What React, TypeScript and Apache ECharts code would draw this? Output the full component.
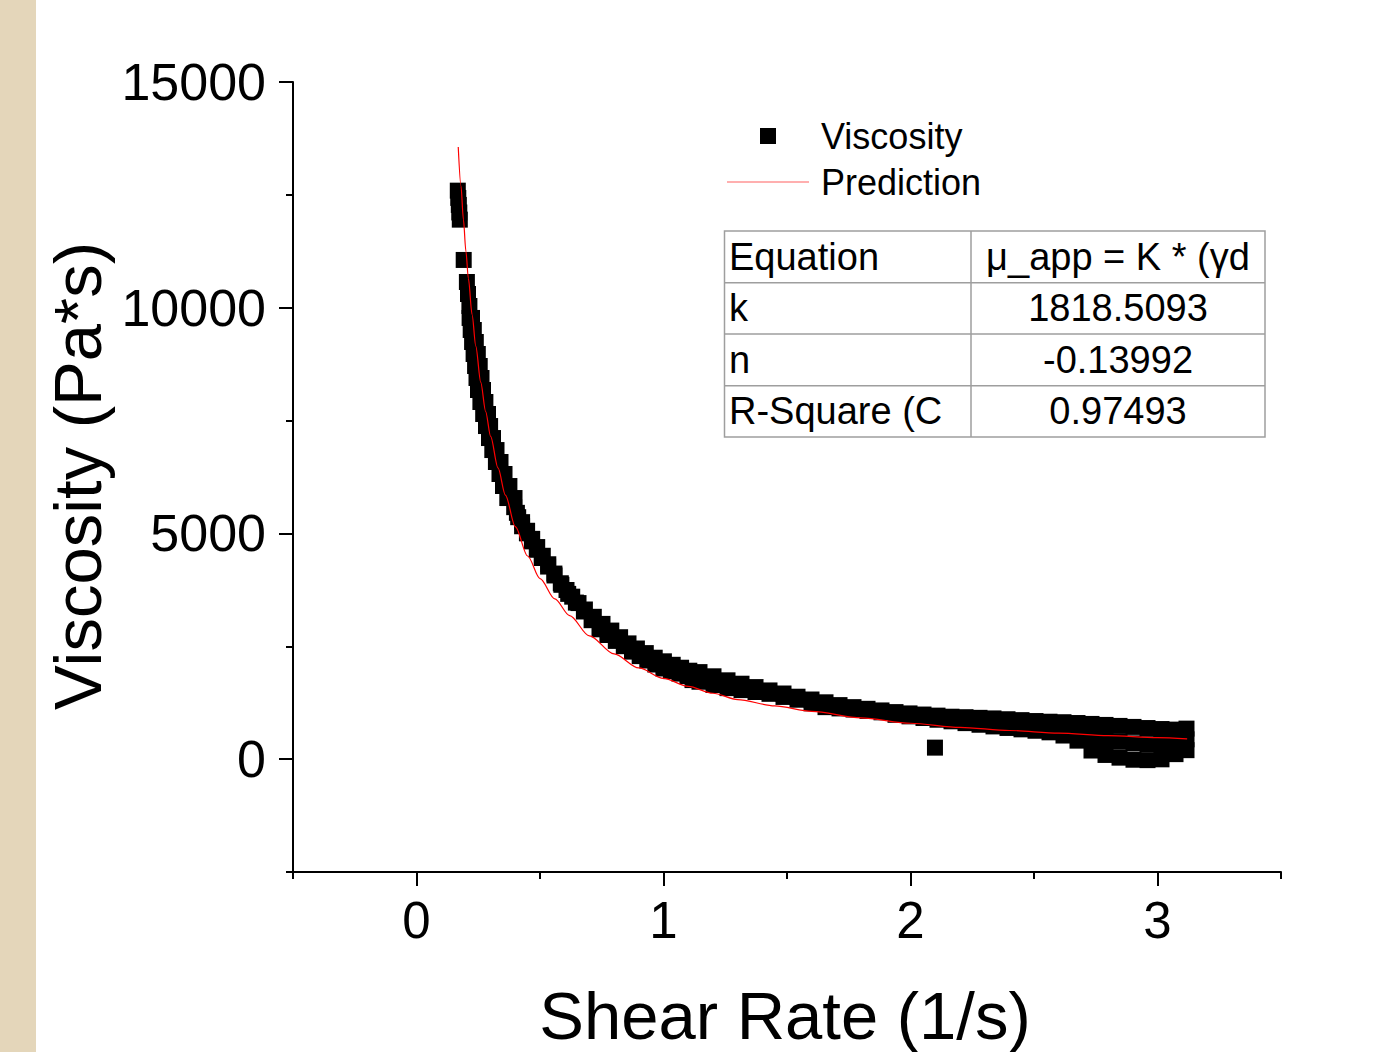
import React, { useEffect, useRef } from "react";
import * as echarts from "echarts";

const FONT = "Liberation Sans, Arial, sans-serif";

// Tick values
const xMajorTicks = [0, 1, 2, 3];
const xMinorTicks = [-0.5, 0.5, 1.5, 2.5, 3.5];
const yMajorTicks = [0, 5000, 10000, 15000];
const yMinorTicks = [-2500, 2500, 7500, 12500];

const topShear = [0.1672, 0.1692, 0.1713, 0.1733, 0.1753, 0.1911, 0.204, 0.2085, 0.2142];
const topVisc = [12593, 12432, 12277, 12110, 11951, 11058, 10570, 10304, 10038];

const steepVisc = [9773, 9507, 9241, 8975, 8709, 8443, 8177, 7911, 7645, 7379, 7113, 6847, 6582, 6316, 6050, 5784];
const steepLeftShear = [0.215, 0.2194, 0.2251, 0.2312, 0.2372, 0.2429, 0.249, 0.2587, 0.27, 0.2814, 0.2935, 0.3069, 0.3215, 0.336, 0.3502, 0.3676];
const steepRightShear = [0.2247, 0.232, 0.2401, 0.2482, 0.2559, 0.2632, 0.2692, 0.2789, 0.2895, 0.298, 0.3097, 0.3239, 0.3401, 0.3563, 0.3761, 0.3968];

const upperShear = [
  0.4065, 0.4275, 0.4478, 0.4684, 0.4887, 0.5113, 0.5336, 0.5583, 0.5842, 0.6073,
  0.6304, 0.6559, 0.6818, 0.7178, 0.753, 0.7887, 0.8243, 0.8583, 0.8923, 0.9283,
  0.9644, 1.0016, 1.0372, 1.0713, 1.1045,
  1.1457, 1.2024, 1.2591, 1.3158, 1.3725, 1.4291, 1.4858, 1.5425, 1.5992, 1.6559,
  1.7126, 1.7692, 1.8259, 1.8826, 1.9393, 1.996, 2.0526, 2.1093, 2.166, 2.2227,
  2.2794, 2.336, 2.3927, 2.4494, 2.5061, 2.5628, 2.6194, 2.6761, 2.7328, 2.7895,
  2.8462, 2.9028, 2.9595, 3.0162, 3.0729, 3.1174,
];
const upperVisc = [
  5456, 5250, 5059, 4880, 4698, 4505, 4317, 4111, 3896, 3747,
  3599, 3457, 3315, 3153, 2996, 2848, 2701, 2564, 2451, 2349,
  2247, 2167, 2090, 2025, 1959,
  1928, 1835, 1746, 1671, 1596, 1522, 1454, 1383, 1321, 1259,
  1197, 1152, 1115, 1079, 1042, 1013, 988, 964, 940, 929,
  915, 902, 884, 864, 844, 829, 818, 800, 780, 758,
  736, 714, 689, 667, 654, 676,
];

const lowerShear = [
  0.3955, 0.4117, 0.4275, 0.447, 0.4672, 0.487, 0.5069, 0.5328, 0.5587, 0.5866,
  0.6142, 0.6453, 0.6777, 0.7089, 0.7409, 0.7729, 0.8069, 0.8393, 0.8725, 0.9036,
  0.9344, 0.9668, 0.9996, 1.03, 1.0644, 1.0968,
  1.1174, 1.1457, 1.2024, 1.2591, 1.3158, 1.3725, 1.4291, 1.4858, 1.5425, 1.5992,
  1.6559, 1.7126, 1.7692, 1.8259, 1.8826, 1.9393, 1.996, 2.0526, 2.1093, 2.166,
  2.2227, 2.2794, 2.336, 2.3927, 2.4494, 2.5061, 2.5628, 2.6194, 2.6761, 2.7328,
  2.7895, 2.8462, 2.9028, 2.9595, 3.0162, 3.0729, 3.1174,
];
const lowerVisc = [
  5582, 5360, 5159, 5002, 4824, 4638, 4456, 4266, 4069, 3862,
  3661, 3468, 3271, 3078, 2876, 2750, 2619, 2502, 2382, 2282,
  2185, 2096, 2008, 1950, 1895, 1839,
  1751, 1715, 1642, 1573, 1529, 1487, 1447, 1378, 1316, 1237,
  1152, 1124, 1099, 1068, 1037, 982, 948, 911, 873, 838,
  798, 762, 725, 691, 660, 629, 594, 523, 410, 191,
  93, 33, -13, -22, -4, 111, 199,
];

const blobShear = [2.6761, 2.7328, 2.7895, 2.8462, 2.9028, 2.9595, 3.0162, 3.0729, 3.1174];
const blobVisc = [605, 488, 425, 386, 350, 332, 332, 381, 439];

const outlierShear = [2.099];
const outlierVisc = [255];

// Prediction curve
const predShear = [0.169, 0.18, 0.19, 0.2, 0.21, 0.225, 0.24, 0.26, 0.28, 0.3, 0.33, 0.36, 0.4, 0.45, 0.5, 0.56, 0.62, 0.7, 0.8, 0.9, 1.0, 1.1, 1.2, 1.3, 1.45, 1.6, 1.8, 2.0, 2.2, 2.4, 2.6, 2.8, 3.0, 3.12];
const predVisc = [13560, 12700, 11950, 11250, 10650, 9850, 9150, 8350, 7700, 7150, 6450, 5850, 5150, 4500, 4000, 3550, 3180, 2730, 2330, 2020, 1790, 1610, 1460, 1320, 1180, 1060, 915, 795, 705, 635, 575, 520, 475, 450];

// Fit table
const tableLabels = ["Equation", "k", "n", "R-Square (C"];
const tableValues = ["μ_app = K * (γd", "1818.5093", "-0.13992", "0.97493"];

function zip(xs: number[], ys: number[]) {
  return xs.map((x, i) => [x, ys[i]]);
}

export default function App() {
  const ref = useRef<HTMLDivElement>(null);

  useEffect(() => {
    if (!ref.current) return;
    const chart = echarts.init(ref.current, undefined, { renderer: "svg" });

    const viscData = [
      ...zip(topShear, topVisc),
      ...zip(steepLeftShear, steepVisc),
      ...zip(steepRightShear, steepVisc),
      ...zip(upperShear, upperVisc),
      ...zip(lowerShear, lowerVisc),
      ...zip(blobShear, blobVisc),
      ...zip(outlierShear, outlierVisc),
    ];
    const predData = zip(predShear, predVisc);

    const tableLeft = 724.5;
    const tableRight = 1265;
    const tableDiv = 971;
    const rowYs = [231, 282.7, 334, 385.7, 437];
    const border = "#9e9e9e";

    const tableGraphics: any[] = [
      {
        type: "rect",
        shape: { x: tableLeft, y: rowYs[0], width: tableRight - tableLeft, height: rowYs[4] - rowYs[0] },
        style: { fill: "none", stroke: border, lineWidth: 1.5 },
      },
      {
        type: "line",
        shape: { x1: tableDiv, y1: rowYs[0], x2: tableDiv, y2: rowYs[4] },
        style: { stroke: border, lineWidth: 1.5 },
      },
    ];
    for (let i = 1; i < 4; i++) {
      tableGraphics.push({
        type: "line",
        shape: { x1: tableLeft, y1: rowYs[i], x2: tableRight, y2: rowYs[i] },
        style: { stroke: border, lineWidth: 1.5 },
      });
    }
    tableLabels.forEach((t, i) => {
      const cy = (rowYs[i] + rowYs[i + 1]) / 2;
      tableGraphics.push({
        type: "text",
        x: 729,
        y: cy,
        style: { text: t, fontSize: 38, fontFamily: FONT, fill: "#000", textAlign: "left", textVerticalAlign: "middle" },
      });
      tableGraphics.push({
        type: "text",
        x: 1118,
        y: cy,
        style: { text: tableValues[i], fontSize: 38, fontFamily: FONT, fill: "#000", textAlign: "center", textVerticalAlign: "middle" },
      });
    });

    const axisCommon = {
      type: "value" as const,
      splitLine: { show: false },
    };

    chart.setOption({
      animation: false,
      backgroundColor: "#ffffff",
      grid: { left: 293, right: 104, top: 82, bottom: 180, containLabel: false },
      xAxis: [
        {
          ...axisCommon,
          min: -0.5,
          max: 3.5,
          position: "bottom",
          axisLine: { show: true, onZero: false, lineStyle: { color: "#000", width: 2 } },
          axisTick: { show: true, inside: false, length: 14, customValues: xMajorTicks, lineStyle: { color: "#000", width: 2 } },
          axisLabel: { show: true, customValues: xMajorTicks, fontSize: 51, fontFamily: FONT, color: "#000", margin: 23, formatter: (v: number) => String(v) },
        },
        {
          ...axisCommon,
          min: -0.5,
          max: 3.5,
          position: "bottom",
          offset: 0,
          axisLine: { show: false, onZero: false },
          axisTick: { show: true, inside: false, length: 7, customValues: xMinorTicks, lineStyle: { color: "#000", width: 2 } },
          axisLabel: { show: false },
        },
      ],
      yAxis: [
        {
          ...axisCommon,
          min: -2500,
          max: 15000,
          position: "left",
          axisLine: { show: true, onZero: false, lineStyle: { color: "#000", width: 2 } },
          axisTick: { show: true, inside: false, length: 14, customValues: yMajorTicks, lineStyle: { color: "#000", width: 2 } },
          axisLabel: { show: true, customValues: yMajorTicks, fontSize: 52, fontFamily: FONT, color: "#000", margin: 27, formatter: (v: number) => String(v) },
        },
        {
          ...axisCommon,
          min: -2500,
          max: 15000,
          position: "left",
          offset: 0,
          axisLine: { show: false, onZero: false },
          axisTick: { show: true, inside: false, length: 7, customValues: yMinorTicks, lineStyle: { color: "#000", width: 2 } },
          axisLabel: { show: false },
        },
      ],
      legend: {
        orient: "vertical",
        left: 722,
        top: 113,
        itemWidth: 82,
        itemHeight: 16,
        itemGap: 10,
        symbolKeepAspect: true,
        textStyle: { fontSize: 36, fontFamily: FONT, color: "#000", lineHeight: 36, padding: [0, 0, 0, 7] },
        data: [
          { name: "Viscosity", icon: "path://M0,0L10,0L10,10L0,10Z", itemStyle: { color: "#000", opacity: 1 } },
          { name: "Prediction", icon: "path://M0,0L82,0L82,1.2L0,1.2Z", itemStyle: { color: "#ff6060" } },
        ],
      },
      graphic: [
        {
          type: "rect",
          shape: { x: 0, y: 0, width: 36, height: 1052 },
          style: { fill: "#E4D6BA" },
          z: -10,
        },
        {
          type: "text",
          x: 785,
          y: 1015,
          style: { text: "Shear Rate (1/s)", fontSize: 67, fontFamily: FONT, fill: "#000", textAlign: "center", textVerticalAlign: "middle" },
        },
        {
          type: "text",
          x: 77,
          y: 476,
          rotation: Math.PI / 2,
          style: { text: "Viscosity (Pa*s)", fontSize: 67, fontFamily: FONT, fill: "#000", textAlign: "center", textVerticalAlign: "middle" },
        },
        ...tableGraphics,
      ],
      series: [
        {
          name: "Viscosity",
          type: "scatter",
          xAxisIndex: 0,
          yAxisIndex: 0,
          symbol: "rect",
          symbolSize: 16,
          itemStyle: { color: "#000", opacity: 1 },
          emphasis: { disabled: true },
          data: viscData,
          z: 2,
        },
        {
          name: "Prediction",
          type: "line",
          xAxisIndex: 0,
          yAxisIndex: 0,
          showSymbol: false,
          symbol: "none",
          smooth: 0.3,
          smoothMonotone: "x",
          lineStyle: { color: "#ff0000", width: 1.2 },
          itemStyle: { color: "#ff0000" },
          data: predData,
          z: 5,
        },
      ],
    });

    return () => chart.dispose();
  }, []);

  return (
    <div
      ref={ref}
      style={{ position: "fixed", left: 0, top: 0, width: 1385, height: 1052, background: "#fff" }}
    />
  );
}
